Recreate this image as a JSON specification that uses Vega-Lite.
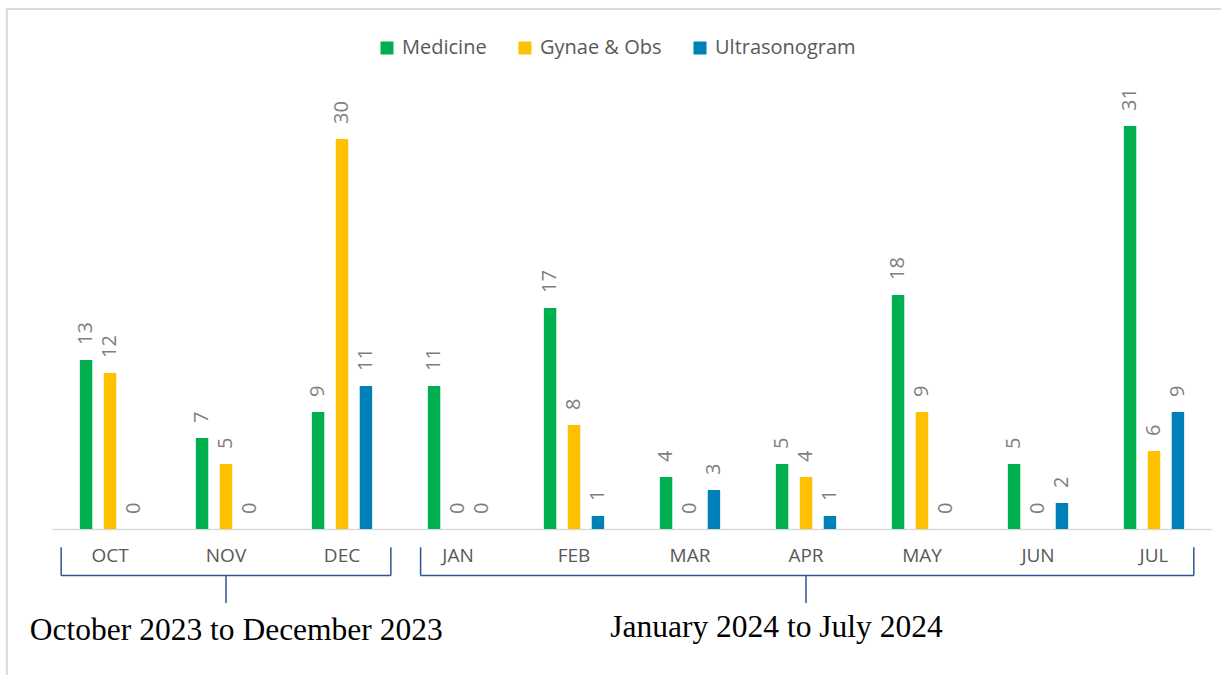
{
  "$schema": "https://vega.github.io/schema/vega-lite/v6.json",
  "width": 1160,
  "height": 455,
  "autosize": {"type": "none"},
  "padding": {"left": 52, "top": 74, "right": 9, "bottom": 146},
  "background": "white",
  "config": {"view": {"stroke": null}, "font": "Open Sans"},
  "data": {
    "values": [
      {"month": "OCT", "series": "Medicine", "value": 13},
      {"month": "OCT", "series": "Gynae & Obs", "value": 12},
      {"month": "OCT", "series": "Ultrasonogram", "value": 0},
      {"month": "NOV", "series": "Medicine", "value": 7},
      {"month": "NOV", "series": "Gynae & Obs", "value": 5},
      {"month": "NOV", "series": "Ultrasonogram", "value": 0},
      {"month": "DEC", "series": "Medicine", "value": 9},
      {"month": "DEC", "series": "Gynae & Obs", "value": 30},
      {"month": "DEC", "series": "Ultrasonogram", "value": 11},
      {"month": "JAN", "series": "Medicine", "value": 11},
      {"month": "JAN", "series": "Gynae & Obs", "value": 0},
      {"month": "JAN", "series": "Ultrasonogram", "value": 0},
      {"month": "FEB", "series": "Medicine", "value": 17},
      {"month": "FEB", "series": "Gynae & Obs", "value": 8},
      {"month": "FEB", "series": "Ultrasonogram", "value": 1},
      {"month": "MAR", "series": "Medicine", "value": 4},
      {"month": "MAR", "series": "Gynae & Obs", "value": 0},
      {"month": "MAR", "series": "Ultrasonogram", "value": 3},
      {"month": "APR", "series": "Medicine", "value": 5},
      {"month": "APR", "series": "Gynae & Obs", "value": 4},
      {"month": "APR", "series": "Ultrasonogram", "value": 1},
      {"month": "MAY", "series": "Medicine", "value": 18},
      {"month": "MAY", "series": "Gynae & Obs", "value": 9},
      {"month": "MAY", "series": "Ultrasonogram", "value": 0},
      {"month": "JUN", "series": "Medicine", "value": 5},
      {"month": "JUN", "series": "Gynae & Obs", "value": 0},
      {"month": "JUN", "series": "Ultrasonogram", "value": 2},
      {"month": "JUL", "series": "Medicine", "value": 31},
      {"month": "JUL", "series": "Gynae & Obs", "value": 6},
      {"month": "JUL", "series": "Ultrasonogram", "value": 9}
    ]
  },
  "layer": [
    {
      "mark": {"type": "bar"},
      "encoding": {
        "x": {
          "field": "month", "type": "nominal", "title": null,
          "scale": {"domain": ["OCT","NOV","DEC","JAN","FEB","MAR","APR","MAY","JUN","JUL"], "paddingInner": 0.48, "paddingOuter": 0.24},
          "axis": {"domainColor": "#D9D9D9", "domainWidth": 1.5, "ticks": false, "labelPadding": 17, "labelFontSize": 19, "labelColor": "#595959", "labelFont": "Open Sans", "labelAngle": 0}
        },
        "xOffset": {
          "field": "series", "type": "nominal",
          "scale": {"domain": ["Medicine", "Gynae & Obs", "Ultrasonogram"], "paddingInner": 0.48, "paddingOuter": 0}
        },
        "y": {"field": "value", "type": "quantitative", "scale": {"domain": [0, 35]}, "axis": null},
        "color": {
          "field": "series", "type": "nominal",
          "scale": {"domain": ["Medicine", "Gynae & Obs", "Ultrasonogram"], "range": ["#00B050", "#FFC000", "#0080B8"]},
          "legend": {"orient": "none", "legendX": 325, "legendY": -36, "direction": "horizontal", "title": null, "symbolType": "square", "symbolSize": 169, "symbolStrokeWidth": 0, "labelFont": "Open Sans", "labelFontSize": 20, "labelColor": "#595959", "columnPadding": 28, "labelOffset": 5, "padding": 0}
        }
      }
    },
    {
      "data": {"values": [{}]},
      "mark": {"type": "rect", "fill": "transparent", "stroke": "#D9D9D9", "strokeWidth": 2},
      "encoding": {
        "x": {"datum": "OCT", "bandPosition": -1.21, "title": null},
        "x2": {"datum": "JUL", "bandPosition": 3},
        "y": {"datum": 40, "axis": null},
        "y2": {"datum": -20}
      }
    },
    {
      "mark": {"type": "text", "angle": 270, "align": "left", "baseline": "middle", "dx": 15, "fontSize": 20, "color": "#7F7F7F", "font": "Open Sans"},
      "encoding": {
        "x": {"field": "month", "type": "nominal", "title": null},
        "xOffset": {"field": "series", "type": "nominal"},
        "y": {"field": "value", "type": "quantitative", "axis": null},
        "text": {"field": "value", "type": "quantitative"}
      }
    },
    {
      "data": {"values": [{}]},
      "mark": {"type": "rule", "color": "#2F5496", "strokeWidth": 1.5},
      "encoding": {"x": {"datum": "OCT", "bandPosition": -0.31, "title": null}, "x2": {"datum": "DEC", "bandPosition": 1.31}, "y": {"datum": -3.58, "axis": null}}
    },
    {
      "data": {"values": [{}]},
      "mark": {"type": "rule", "color": "#2F5496", "strokeWidth": 1.5},
      "encoding": {"x": {"datum": "OCT", "bandPosition": -0.31, "title": null}, "y": {"datum": -3.58, "axis": null}, "y2": {"datum": -1.4}}
    },
    {
      "data": {"values": [{}]},
      "mark": {"type": "rule", "color": "#2F5496", "strokeWidth": 1.5},
      "encoding": {"x": {"datum": "DEC", "bandPosition": 1.31, "title": null}, "y": {"datum": -3.58, "axis": null}, "y2": {"datum": -1.4}}
    },
    {
      "data": {"values": [{}]},
      "mark": {"type": "rule", "color": "#2F5496", "strokeWidth": 1.5},
      "encoding": {"x": {"datum": "NOV", "bandPosition": 0.5, "title": null}, "y": {"datum": -3.58, "axis": null}, "y2": {"datum": -5.7}}
    },
    {
      "data": {"values": [{}]},
      "mark": {"type": "rule", "color": "#2F5496", "strokeWidth": 1.5},
      "encoding": {"x": {"datum": "JAN", "bandPosition": -0.12, "title": null}, "x2": {"datum": "JUL", "bandPosition": 1.16}, "y": {"datum": -3.58, "axis": null}}
    },
    {
      "data": {"values": [{}]},
      "mark": {"type": "rule", "color": "#2F5496", "strokeWidth": 1.5},
      "encoding": {"x": {"datum": "JAN", "bandPosition": -0.12, "title": null}, "y": {"datum": -3.58, "axis": null}, "y2": {"datum": -1.4}}
    },
    {
      "data": {"values": [{}]},
      "mark": {"type": "rule", "color": "#2F5496", "strokeWidth": 1.5},
      "encoding": {"x": {"datum": "JUL", "bandPosition": 1.16, "title": null}, "y": {"datum": -3.58, "axis": null}, "y2": {"datum": -1.4}}
    },
    {
      "data": {"values": [{}]},
      "mark": {"type": "rule", "color": "#2F5496", "strokeWidth": 1.5},
      "encoding": {"x": {"datum": "APR", "bandPosition": 0.5, "title": null}, "y": {"datum": -3.58, "axis": null}, "y2": {"datum": -5.7}}
    },
    {
      "data": {"values": [{"period": "October 2023 to December 2023"}]},
      "mark": {"type": "text", "font": "Liberation Serif", "fontSize": 31.5, "color": "#000000", "align": "center", "baseline": "alphabetic"},
      "encoding": {"x": {"datum": "NOV", "bandPosition": 0.67, "title": null}, "y": {"datum": -8.54, "axis": null}, "text": {"field": "period"}}
    },
    {
      "data": {"values": [{"period": "January 2024 to July 2024"}]},
      "mark": {"type": "text", "font": "Liberation Serif", "fontSize": 31.5, "color": "#000000", "align": "center", "baseline": "alphabetic"},
      "encoding": {"x": {"datum": "APR", "bandPosition": 0.01, "title": null}, "y": {"datum": -8.31, "axis": null}, "text": {"field": "period"}}
    }
  ]
}
